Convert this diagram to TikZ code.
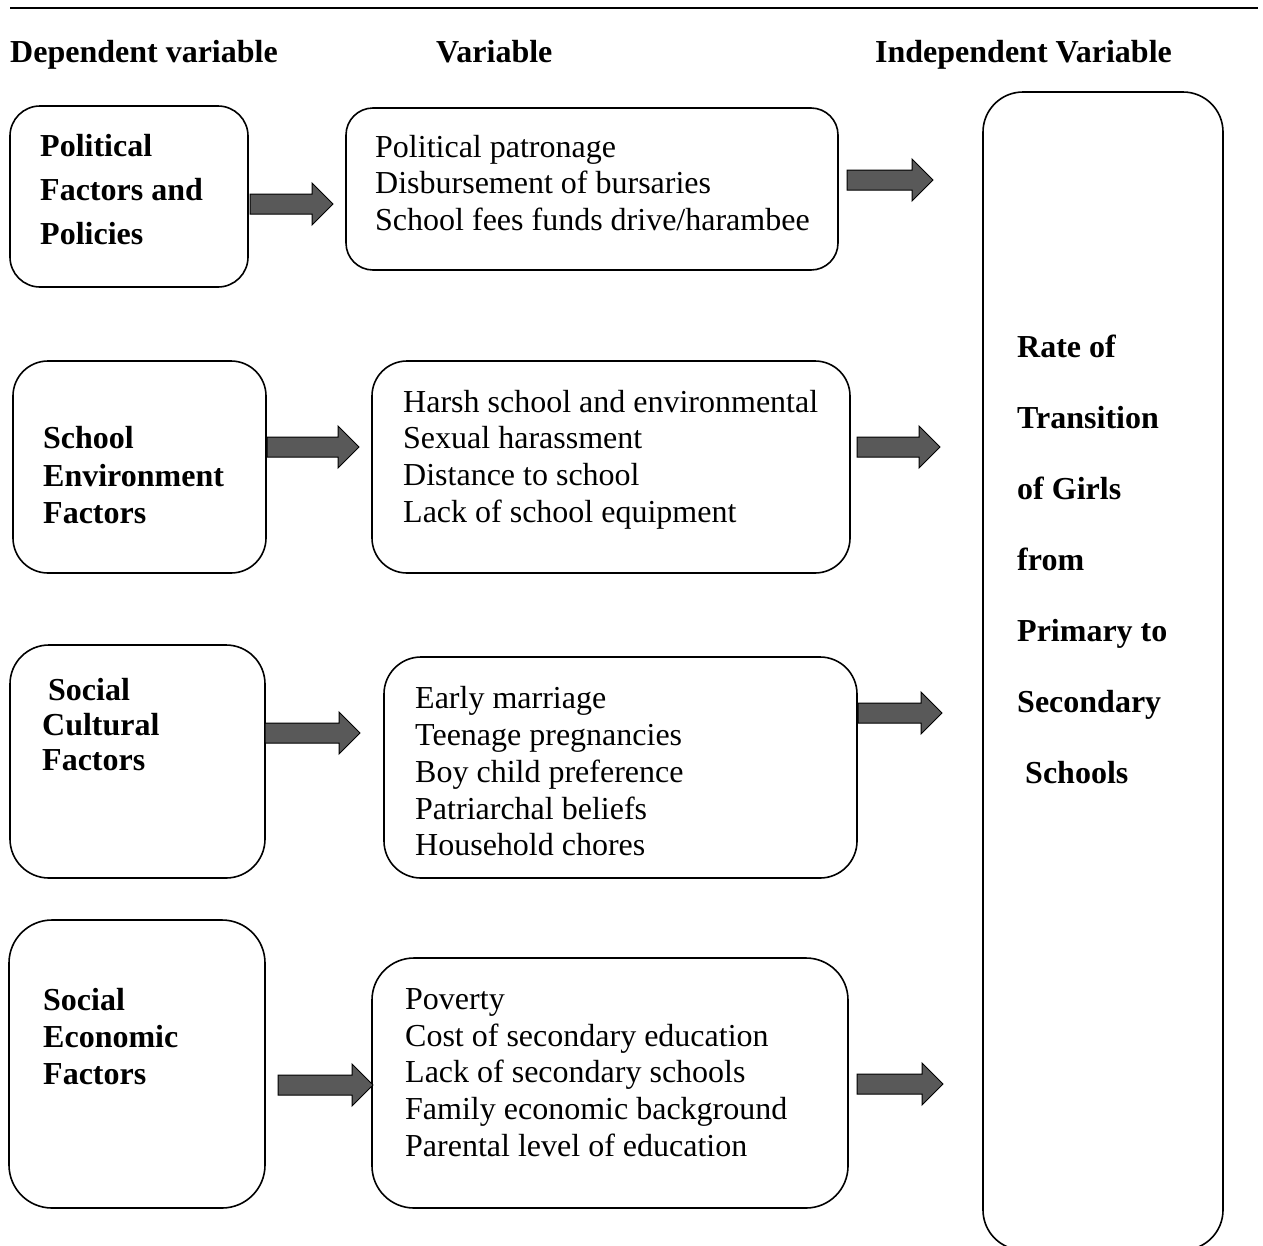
\documentclass[tikz,border=0pt]{standalone}
\usepackage{fontspec}
\setmainfont{Liberation Serif}
\definecolor{arrowgray}{HTML}{595959}
\tikzset{
  box/.style={draw=black, line width=1.6pt, rectangle, inner sep=0pt},
  txt/.style={inner sep=0pt, align=left, anchor=west},
  ttl/.style={inner sep=0pt, anchor=base west, font=\fontsize{32}{37}\selectfont\bfseries},
  blockarrow/.style={draw=black, line width=1pt, fill=arrowgray, line join=miter},
}
% block arrow: start x, tip x, y
\newcommand{\blockarr}[3]{%
  \draw[blockarrow] (#1,#3-10) -- (#2-21,#3-10) -- (#2-21,#3-21) -- (#2,#3)
    -- (#2-21,#3+21) -- (#2-21,#3+10) -- (#1,#3+10) -- cycle;}
\begin{document}
\begin{tikzpicture}[x=1pt,y=-1pt]
\useasboundingbox (0,0) rectangle (1263,1245);
\clip (0,0) rectangle (1263,1245);
% top rule
\coordinate (ruleL) at (10,8);
\coordinate (ruleR) at (1258,8);
\draw[line width=1.4pt] (ruleL) -- (ruleR);
% titles
\node[ttl] (t1) at (10,62) {Dependent variable};
\node[ttl] (t2) at (436,62) {Variable};
\node[ttl] (t3) at (875,62) {Independent Variable};
% left boxes
\node[box, minimum width=238, minimum height=181, rounded corners=30] (L1) at (129,196.5) {};
\node[box, minimum width=253, minimum height=212, rounded corners=35] (L2) at (139.5,467) {};
\node[box, minimum width=255, minimum height=233, rounded corners=39] (L3) at (137.5,761.5) {};
\node[box, minimum width=256, minimum height=288, rounded corners=43] (L4) at (137,1064) {};
% middle boxes
\node[box, minimum width=492, minimum height=162, rounded corners=27] (M1) at (592,189) {};
\node[box, minimum width=478, minimum height=212, rounded corners=35] (M2) at (611,467) {};
\node[box, minimum width=473, minimum height=221, rounded corners=37] (M3) at (620.5,767.5) {};
\node[box, minimum width=476, minimum height=250, rounded corners=42] (M4) at (610,1083) {};
% right box
\node[box, minimum width=240, minimum height=1158, rounded corners=40] (R) at (1103,671) {};
% texts
\node[txt, font=\fontsize{32}{44}\selectfont\bfseries] (L1t) at (40,190) {Political\\Factors and\\Policies};
\node[txt, font=\fontsize{32}{37.5}\selectfont\bfseries] (L2t) at (43,475.5) {School\\Environment\\Factors};
\node[txt, font=\fontsize{32}{35}\selectfont\bfseries] (L3t) at (42,725) {\hspace*{6pt}Social\\Cultural\\Factors};
\node[txt, font=\fontsize{32}{37}\selectfont\bfseries] (L4t) at (43,1037) {Social\\Economic\\Factors};
\node[txt, font=\fontsize{32}{36.5}\selectfont] (M1t) at (375,183) {Political patronage\\Disbursement of bursaries\\School fees funds drive/harambee};
\node[txt, font=\fontsize{32}{36.7}\selectfont] (M2t) at (403,459.5) {Harsh school and environmental\\Sexual harassment\\Distance to school\\Lack of school equipment};
\node[txt, font=\fontsize{32}{36.75}\selectfont] (M3t) at (415,771.5) {Early marriage\\Teenage pregnancies\\Boy child preference\\Patriarchal beliefs\\Household chores};
\node[txt, font=\fontsize{32}{36.75}\selectfont] (M4t) at (405,1072.5) {Poverty\\Cost of secondary education\\Lack of secondary schools\\Family economic background\\Parental level of education};
\node[txt, font=\fontsize{32}{71}\selectfont\bfseries] (Rt) at (1017,559) {Rate of\\Transition\\of Girls\\from\\Primary to\\Secondary\\\hspace*{8pt}Schools};
% block arrows
\blockarr{250}{333}{204}
\blockarr{847}{933}{180}
\blockarr{267}{359}{447}
\blockarr{857}{940}{447}
\blockarr{265}{360}{733}
\blockarr{858}{942}{713}
\blockarr{278}{373}{1085}
\blockarr{857}{943}{1084}
\end{tikzpicture}
\end{document}
